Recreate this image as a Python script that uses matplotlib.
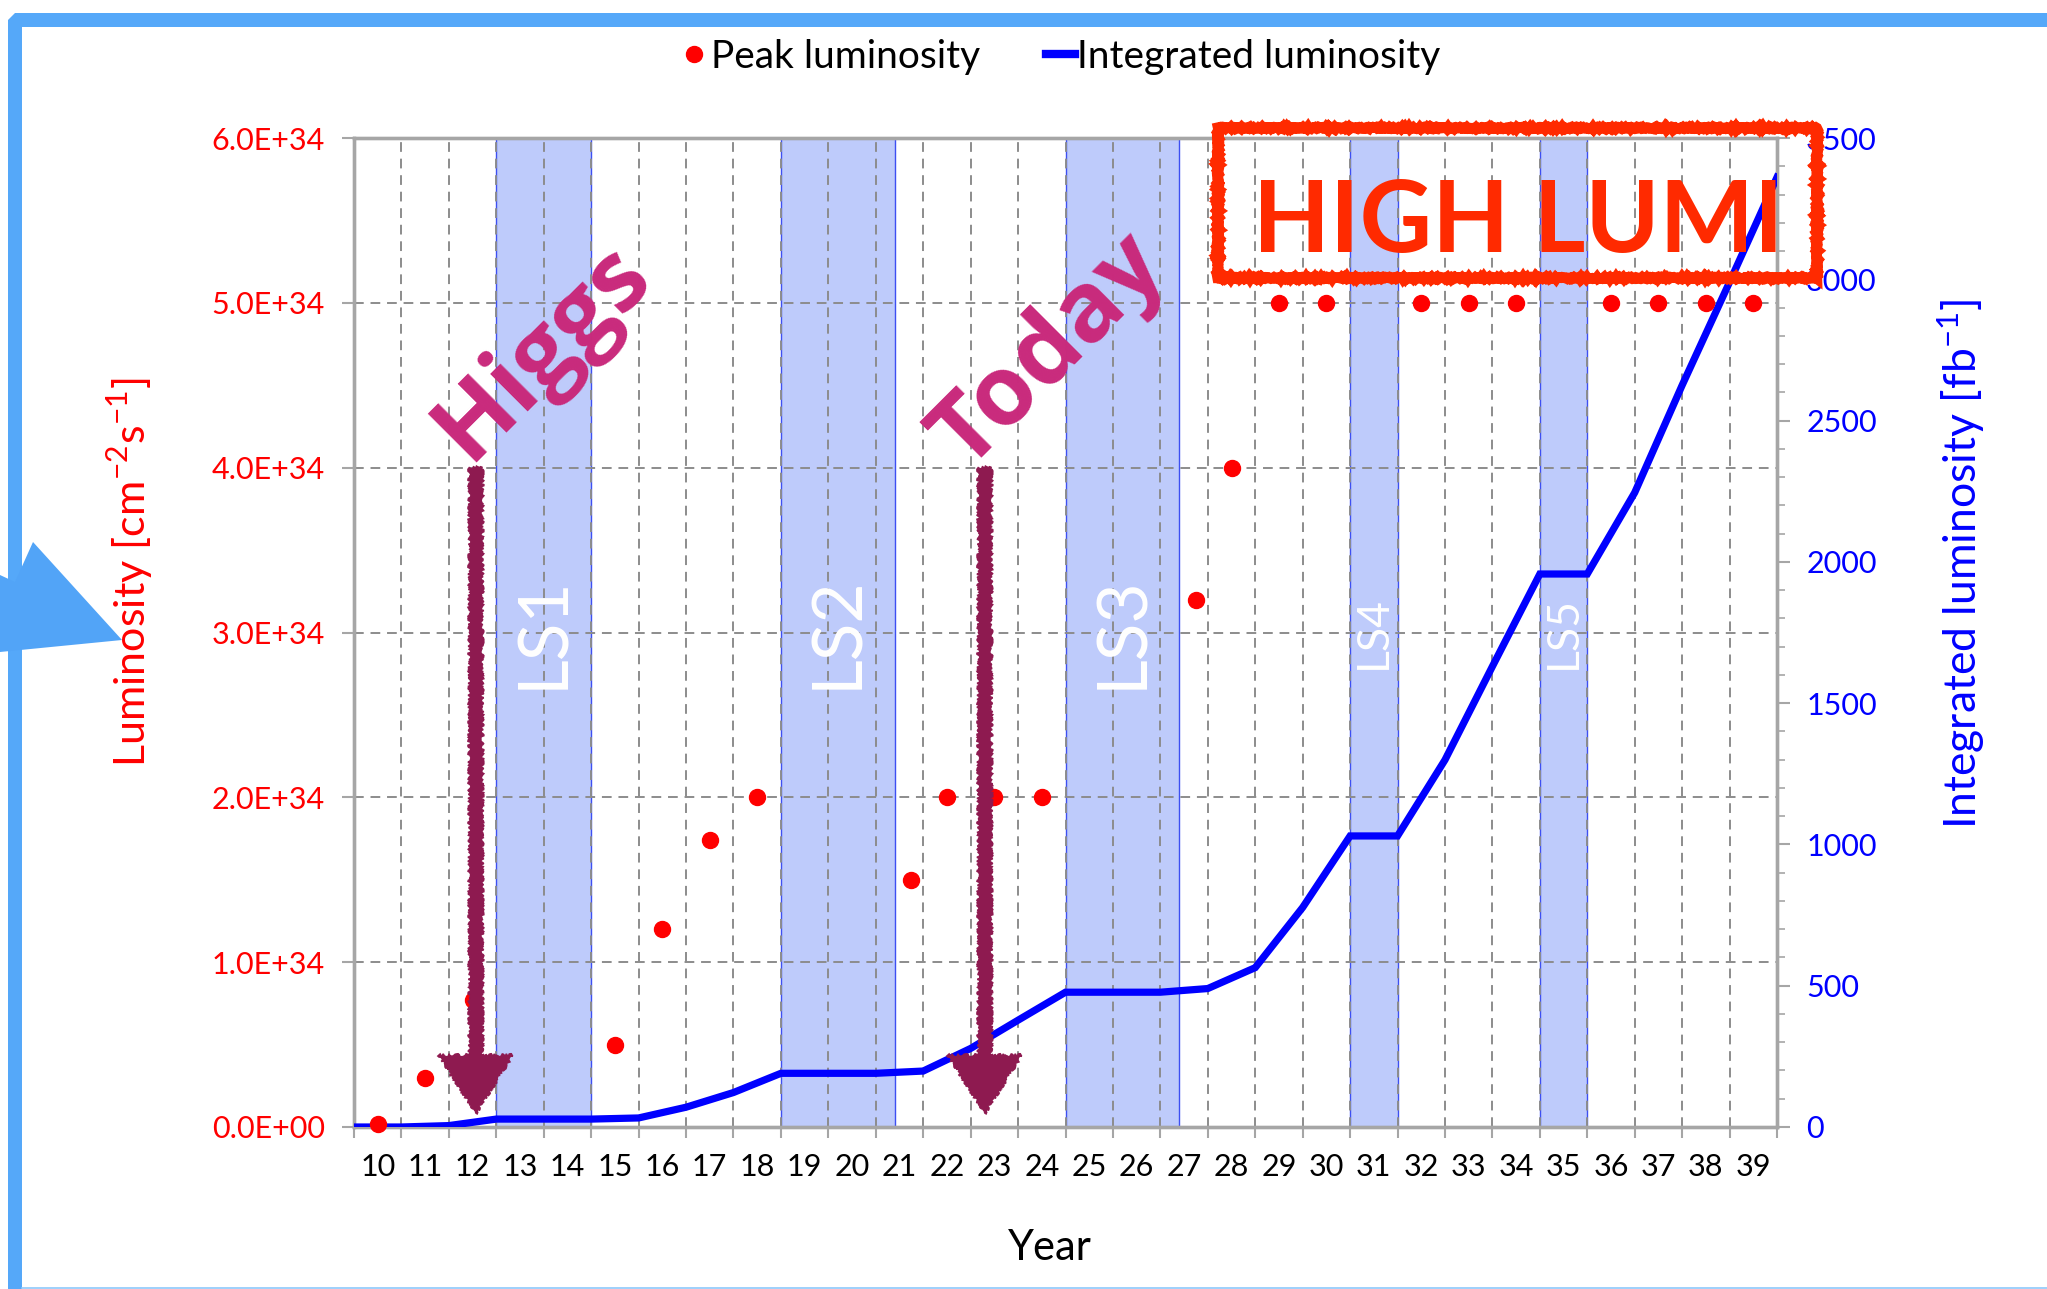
import matplotlib
matplotlib.use('Agg')
import matplotlib.pyplot as plt
from matplotlib.patches import Rectangle, Polygon, FancyArrow
from matplotlib.lines import Line2D
from matplotlib.ticker import FixedLocator, FuncFormatter, MultipleLocator

plt.rcParams['font.family'] = ['Lato', 'DejaVu Sans']

# ---------------- data ----------------
years = [10, 11, 12, 13, 14, 15, 16, 17, 18, 19, 20, 21, 22, 23, 24,
         25, 26, 27, 28, 29, 30, 31, 32, 33, 34, 35, 36, 37, 38, 39]

peak_x = [10, 11, 12, 15, 16, 17, 18, 21.25, 22, 23, 24, 27.25, 28,
          29, 30, 32, 33, 34, 36, 37, 38, 39]
peak_lumi = [0.02e34, 0.30e34, 0.77e34, 0.50e34, 1.20e34, 1.74e34, 2.0e34,
             1.50e34, 2.0e34, 2.0e34, 2.0e34, 3.2e34, 4.0e34,
             5.0e34, 5.0e34, 5.0e34, 5.0e34, 5.0e34, 5.0e34, 5.0e34, 5.0e34, 5.0e34]

int_x = [9.5, 10.5, 11.5, 12.5, 13.5, 14.5, 15.5, 16.5, 17.5, 18.5, 19.5,
         20.5, 21.5, 22.5, 23.5, 24.5, 25.5, 26.5, 27.5, 28.5, 29.5, 30.5,
         31.5, 32.5, 33.5, 34.5, 35.5, 36.5, 37.5, 38.5, 39.5]
int_lumi = [0, 0, 5, 28, 28, 28, 32, 70, 122, 190, 190,
            190, 198, 278, 378, 477, 477, 477, 490, 564, 777, 1030,
            1030, 1299, 1630, 1957, 1957, 2245, 2625, 2990, 3361]

ls_names = ['LS1', 'LS2', 'LS3', 'LS4', 'LS5']
ls_start = [12.5, 18.5, 24.5, 30.5, 34.5]
ls_end = [14.5, 20.9, 26.9, 31.5, 35.5]

event_names = ['Higgs', 'Today']
event_x = [12.07, 22.8]

# ---------------- figure ----------------
W, H = 2047, 1289
DPI = 100
fig = plt.figure(figsize=(W / DPI, H / DPI), dpi=DPI)


def fx(px):
    return px / W


def fy(py):
    return 1 - py / H


ax = fig.add_axes([fx(354), fy(1127), fx(1777) - fx(354), fy(138) - fy(1127)])
ax2 = ax.twinx()

grid_c = '#8c8c8c'
spine_c = '#a6a6a6'

# bands
for name, s, e in zip(ls_names, ls_start, ls_end):
    ax.axvspan(s, e, facecolor='#3a63f5', alpha=0.33, edgecolor='none', zorder=1)
    ax.axvspan(s, e, facecolor='none', edgecolor='#3d4ff2', lw=1.0, zorder=1.1)
    fs = 50 if name in ('LS1', 'LS2', 'LS3') else 32
    ax.text((s + e) / 2, 3.0e34, name, rotation=90, ha='center', va='center',
            color='white', fontsize=fs, fontweight='normal', zorder=2)

ax.set_xlim(9.5, 39.5)
ax.set_ylim(0, 6e34)
bounds = [y - 0.5 for y in years] + [years[-1] + 0.5]
ax.xaxis.set_major_locator(FixedLocator(bounds))
ax.xaxis.set_minor_locator(FixedLocator(years))
ax.xaxis.set_minor_formatter(FuncFormatter(lambda v, p: '%d' % round(v)))
ax.xaxis.set_major_formatter(FuncFormatter(lambda v, p: ''))
ax.yaxis.set_major_locator(MultipleLocator(1e34))
ax.yaxis.set_major_formatter(FuncFormatter(lambda v, p: '%.1E' % v))

ax.grid(True, which='major', color=grid_c, lw=1.4, ls=(0, (5, 3.5)))
ax.tick_params(axis='x', which='major', length=8, width=1.5, color=spine_c)
ax.tick_params(axis='x', which='minor', length=0, labelsize=22, pad=19, labelcolor='black')
ax.tick_params(axis='y', which='major', length=9, width=1.5, color=spine_c,
               labelcolor='#ff0000', labelsize=22, pad=12)

for sp in ax.spines.values():
    sp.set_color(spine_c)
    sp.set_linewidth(2.4)
for sp in ax2.spines.values():
    sp.set_color(spine_c)
    sp.set_linewidth(2.4)

ax2.set_ylim(0, 3500)
ax2.yaxis.set_major_locator(MultipleLocator(500))
ax2.yaxis.set_minor_locator(MultipleLocator(100))
ax2.tick_params(axis='y', which='major', length=9, width=1.5, color=spine_c,
                labelcolor='#0000ff', labelsize=22, pad=12)
ax2.tick_params(axis='y', which='minor', length=6, width=1.2, color=spine_c)

ax2.plot(int_x, int_lumi, color='#0000ff', lw=5.2, zorder=3, solid_joinstyle='miter')
ax2.plot(peak_x, peak_lumi, 'o', color='#ff0000', ms=11.5, ls='none',
         transform=ax.transData, zorder=4, clip_on=False)

# axis labels
fig.text(fx(130), fy(572), 'Luminosity [cm$^{\\mathregular{-2}}$s$^{\\mathregular{-1}}$]',
         rotation=90, ha='center', va='center', color='#ff0000', fontsize=31)
fig.text(fx(1961), fy(564), 'Integrated luminosity [fb$^{\\mathregular{-1}}$]',
         rotation=90, ha='center', va='center', color='#0000ff', fontsize=32)
fig.text(fx(1050), fy(1248), 'Year', ha='center', va='center', color='black', fontsize=30)

# legend
handles = [Line2D([], [], marker='o', color='#ff0000', ls='none', ms=11.5),
           Line2D([], [], color='#0000ff', lw=6)]
fig.legend(handles=handles, labels=['Peak luminosity', 'Integrated luminosity'],
           loc='center', bbox_to_anchor=(fx(1060), fy(57)), ncol=2, frameon=False,
           fontsize=28, handlelength=0.75, handletextpad=0.05, columnspacing=1.7)

# chalky arrows + event labels
chalk = '#8e1a50'
for name, x in zip(event_names, event_x):
    arr = FancyArrow(x, 4.0e34, 0, -3.915e34, width=0.27, head_width=1.55,
                     head_length=0.35e34, length_includes_head=True,
                     transform=ax.transData, color=chalk, lw=1.2, zorder=5)
    arr.set_sketch_params(scale=1.5, length=4, randomness=8)
    fig.add_artist(arr)

for name, cx, cy in zip(event_names, [543, 1050], [352, 352]):
    fig.text(fx(cx), fy(cy), name, rotation=45, ha='center', va='center',
             rotation_mode='anchor', color='#c92a7c', fontsize=70, fontweight='bold',
             family=['Open Sans', 'DejaVu Sans'], zorder=6)

# HIGH LUMI box
box = Rectangle((fx(1218), fy(278)), fx(1817) - fx(1218), fy(128) - fy(278),
                transform=fig.transFigure, fill=False, edgecolor='#ff2a00', lw=7.5,
                zorder=7, joinstyle='miter')
box.set_sketch_params(scale=0.8, length=2, randomness=4)
fig.add_artist(box)
fig.text(fx(1518), fy(252), 'HIGH LUMI', ha='center', va='baseline', color='#ff2a00',
         fontsize=72, fontweight='bold', zorder=8)

# slide frame decorations
frame_c = '#55a8f9'
frame = Polygon([(fx(8), fy(1289)), (fx(8), fy(20)), (fx(15), fy(13)), (fx(2047), fy(13)),
                 (fx(2047), fy(27)), (fx(22), fy(27)), (fx(22), fy(1289))],
                closed=True, transform=fig.transFigure, facecolor=frame_c,
                edgecolor='none', zorder=9)
fig.add_artist(frame)
fig.add_artist(Line2D([fx(22), fx(2047)], [fy(1288), fy(1288)], transform=fig.transFigure,
                      color='#8ec8fb', lw=1.2, zorder=9))
barrow = Polygon([(fx(0), fy(575)), (fx(15), fy(582)), (fx(33), fy(542)),
                  (fx(122), fy(640)), (fx(0), fy(652))], closed=True,
                 transform=fig.transFigure, facecolor='#52a4f7', edgecolor='none', zorder=10)
fig.add_artist(barrow)

fig.savefig('out.png', dpi=DPI)
